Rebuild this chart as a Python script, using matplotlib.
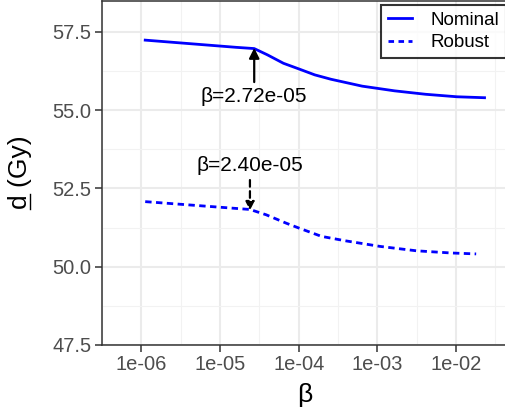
import matplotlib
matplotlib.use("Agg")
import matplotlib.pyplot as plt
from matplotlib.lines import Line2D

# data
nominal_beta = [1.12e-6, 1.6e-5, 2.72e-5, 4.0e-5, 6.4e-5, 1.03e-4, 1.6e-4, 2.57e-4,
                6.4e-4, 1.65e-3, 4.1e-3, 1.03e-2, 2.3e-2]
nominal_d = [57.24, 57.01, 56.97, 56.77, 56.50, 56.31, 56.13, 55.99,
             55.77, 55.62, 55.51, 55.43, 55.40]
robust_beta = [1.12e-6, 2.4e-5, 3.86e-5, 6.97e-5, 1.02e-4, 1.95e-4, 3.9e-4,
               1.08e-3, 3.12e-3, 8.6e-3, 1.8e-2]
robust_d = [52.08, 51.83, 51.66, 51.39, 51.23, 50.97, 50.83,
            50.65, 50.51, 50.44, 50.41]

yticks = [47.5, 50.0, 52.5, 55.0, 57.5]
xticks = [1e-6, 1e-5, 1e-4, 1e-3, 1e-2]
xtick_labels = ["1e-06", "1e-05", "1e-04", "1e-03", "1e-02"]

plt.rcParams["font.family"] = ["Liberation Sans", "DejaVu Sans"]

W, H = 506, 417
fig = plt.figure(figsize=(W / 100, H / 100), dpi=100)
ax = fig.add_axes([102 / W, 1 - 345 / H, 406 / W, 344 / H])

blue = "#0000FF"
ax.plot(nominal_beta, nominal_d, color=blue, lw=2.0, solid_joinstyle="round")
ax.plot(robust_beta, robust_d, color=blue, lw=2.0, linestyle=(0, (2.3, 1.6)))

ax.set_xscale("log")
ax.set_xlim(10 ** -6.217, 10 ** -1.34)
ax.set_ylim(47.5, 58.49)

ax.set_xticks(xticks)
ax.set_xticklabels(xtick_labels)
ax.set_xticks([10 ** (k + 0.5) for k in range(-7, -1)], minor=True)
ax.xaxis.set_minor_formatter(plt.NullFormatter())
ax.set_yticks(yticks)
ax.set_yticklabels([f"{v:.1f}" for v in yticks])
ax.set_yticks([48.75, 51.25, 53.75, 56.25], minor=True)

ax.grid(which="major", color="#EBEBEB", lw=1.5)
ax.grid(which="minor", color="#F2F2F2", lw=0.8)
ax.set_axisbelow(True)
ax.tick_params(which="major", length=5, width=1.1, color="#333333",
               labelsize=14.5, labelcolor="#4D4D4D", pad=2.5)
ax.tick_params(which="minor", length=0)
for s in ax.spines.values():
    s.set_color("#333333")
    s.set_linewidth(1.1)

ax.set_xlabel("β", fontsize=19, labelpad=6)

# y label with underlined d
ylab = fig.text(20 / W, 1 - 172 / H, "d (Gy)", rotation=90, fontsize=19,
                ha="center", va="center")
fig.canvas.draw()
renderer = fig.canvas.get_renderer()
bb = ylab.get_window_extent(renderer)
tmp = fig.text(0, 0, "d", fontsize=19)
dw = tmp.get_window_extent(renderer).width
tmp.remove()
ux = bb.x1 - 2
fig.add_artist(Line2D([ux, ux], [bb.y0, bb.y0 + dw], transform=None,
                      color="black", lw=1.0))

# annotations
ax.annotate("", xy=(2.72e-5, 56.99), xytext=(2.72e-5, 55.9),
            arrowprops=dict(arrowstyle="-|>,head_length=0.6,head_width=0.3",
                            color="black", lw=1.6, shrinkA=0, shrinkB=0))
ax.text(2.72e-5, 55.43, "β=2.72e-05", ha="center", va="center", fontsize=15)
ax.annotate("", xy=(2.4e-5, 51.8), xytext=(2.4e-5, 52.77),
            arrowprops=dict(arrowstyle="-|>,head_length=0.5,head_width=0.25",
                            color="black", lw=1.6, linestyle=(0, (3, 2)),
                            shrinkA=0, shrinkB=0))
ax.text(2.4e-5, 53.25, "β=2.40e-05", ha="center", va="center", fontsize=15)

handles = [Line2D([], [], color=blue, lw=2.0),
           Line2D([], [], color=blue, lw=2.0, linestyle=(0, (2.0, 1.6)))]
leg = ax.legend(handles, ["Nominal", "Robust"], loc="upper right",
                bbox_to_anchor=(1.0, 1 - 5 / H), bbox_transform=fig.transFigure,
                fontsize=13.5, frameon=True, fancybox=False, borderaxespad=0,
                handlelength=1.3, handletextpad=1.0, labelspacing=0.3,
                borderpad=0.35)
leg.get_frame().set_edgecolor("black")
leg.get_frame().set_linewidth(1.5)

fig.savefig("out.png", dpi=100)
